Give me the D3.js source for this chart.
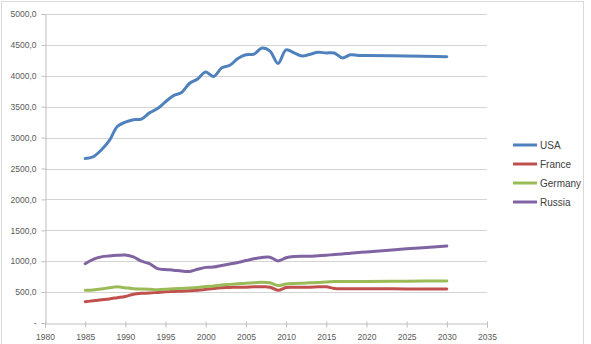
<!DOCTYPE html>
<html>
<head>
<meta charset="utf-8">
<script src="https://cdn.jsdelivr.net/npm/d3@7"></script>
<style>
  body { margin: 0; background: #fff; }
  svg { display: block; }
</style>
</head>
<body>
<svg id="chart" width="591" height="344"></svg>
<script>
// years (yearly to 2020, then the flat projection stretch)
var years = [1985, 1986, 1987, 1988, 1989, 1990, 1991, 1992, 1993, 1994,
             1995, 1996, 1997, 1998, 1999, 2000, 2001, 2002, 2003, 2004,
             2005, 2006, 2007, 2008, 2009, 2010, 2011, 2012, 2013, 2014,
             2015, 2016, 2017, 2018, 2019, 2020, 2025, 2030]

var usa = [2660, 2690, 2800, 2950, 3180, 3250, 3290, 3300, 3400, 3470,
           3580, 3680, 3730, 3880, 3950, 4060, 3990, 4130, 4170, 4280,
           4340, 4350, 4450, 4400, 4200, 4420, 4370, 4320, 4350, 4380,
           4370, 4370, 4290, 4340, 4330, 4330, 4320, 4310]

var france = [345, 360, 375, 390, 410, 430, 465, 480, 485, 495,
              505, 510, 515, 520, 530, 545, 560, 570, 575, 580,
              580, 585, 585, 580, 530, 575, 580, 580, 580, 585,
              585, 560, 555, 555, 555, 555, 552, 550]

var germany = [530, 535, 550, 570, 585, 570, 555, 550, 545, 540,
               545, 555, 560, 565, 575, 590, 600, 615, 625, 635,
               645, 650, 660, 650, 605, 630, 640, 645, 650, 655,
               665, 670, 670, 670, 672, 673, 677, 680]

var russia = [960, 1030, 1070, 1085, 1095, 1100, 1070, 1000, 960, 880,
              865, 855, 840, 835, 870, 900, 905, 930, 955, 980,
              1010, 1040, 1060, 1065, 1005, 1055, 1075, 1080, 1080, 1090,
              1095, 1110, 1115, 1130, 1140, 1150, 1200, 1245]

var seriesNames = ["USA", "France", "Germany", "Russia"]
var seriesColors = ["#4f81bd", "#c0504d", "#9bbb59", "#8064a2"]
var seriesValues = [usa, france, germany, russia]

var xTicks = [1980, 1985, 1990, 1995, 2000, 2005, 2010, 2015, 2020, 2025, 2030, 2035]
var yTicks = [0, 500, 1000, 1500, 2000, 2500, 3000, 3500, 4000, 4500, 5000]

var svg = d3.select("#chart")

// outer chart border
svg.append("rect")
  .attr("x", 1.5).attr("y", 1.5)
  .attr("width", 582).attr("height", 360)
  .attr("fill", "none")
  .attr("stroke", "#d9d9d9")
  .attr("stroke-width", 1)

var x = d3.scaleLinear().domain([1980, 2035]).range([45, 487])
var y = d3.scaleLinear().domain([0, 5000]).range([323, 14])

// gridlines
svg.append("g")
  .selectAll("line")
  .data(yTicks.filter(function(d){ return d > 0 }))
  .enter()
  .append("line")
  .attr("x1", x(1980)).attr("x2", x(2035))
  .attr("y1", function(d){ return Math.round(y(d)) + 0.5 })
  .attr("y2", function(d){ return Math.round(y(d)) + 0.5 })
  .attr("stroke", "#d4d4d4")
  .attr("stroke-width", 1.2)

var fmt = function(d){
  if (d === 0) return "-"
  return d3.format(".1f")(d).replace(".", ",")
}

var yAxis = d3.axisLeft(y).tickValues(yTicks).tickFormat(fmt).tickSize(4).tickPadding(5)
var gy = svg.append("g")
  .attr("transform", "translate(" + (x(1980) + 0.5) + ",0)")
  .call(yAxis)
gy.select(".domain").attr("stroke", "#bfbfbf")
gy.selectAll(".tick line").attr("stroke", "#bfbfbf")
gy.selectAll("text")
  .attr("fill", "#595959")
  .style("font-family", "'Liberation Sans', Arial, sans-serif")
  .style("font-size", "8.5px")

var xAxis = d3.axisBottom(x).tickValues(xTicks).tickFormat(d3.format("d")).tickSize(4).tickPadding(6)
var gx = svg.append("g")
  .attr("transform", "translate(0," + (y(0) + 0.5) + ")")
  .call(xAxis)
gx.select(".domain").attr("stroke", "#bfbfbf")
gx.selectAll(".tick line").attr("stroke", "#bfbfbf").attr("y1", -2)
gx.selectAll("text")
  .attr("fill", "#595959")
  .style("font-family", "'Liberation Sans', Arial, sans-serif")
  .style("font-size", "8.5px")

var line = d3.line()
  .x(function(d){ return x(d[0]) })
  .y(function(d){ return y(d[1]) })
  .curve(d3.curveCatmullRom.alpha(0.5))

seriesValues.forEach(function(vals, i){
  var pts = years.map(function(yr, j){ return [yr, vals[j]] })
  svg.append("path")
    .datum(pts)
    .attr("d", line)
    .attr("fill", "none")
    .attr("stroke", seriesColors[i])
    .attr("stroke-width", 3)
    .attr("stroke-linejoin", "round")
    .attr("stroke-linecap", "round")
})

// legend
var legend = svg.append("g").attr("transform", "translate(513,145)")
seriesNames.forEach(function(name, i){
  var g = legend.append("g").attr("transform", "translate(0," + (i * 19) + ")")
  g.append("line")
    .attr("x1", 0).attr("x2", 24)
    .attr("y1", 0).attr("y2", 0)
    .attr("stroke", seriesColors[i])
    .attr("stroke-width", 3)
  g.append("text")
    .attr("x", 27).attr("y", 0)
    .attr("dy", "0.35em")
    .attr("fill", "#404040")
    .style("font-family", "'Liberation Sans', Arial, sans-serif")
    .style("font-size", "10px")
    .text(name)
})
</script>
</body>
</html>
